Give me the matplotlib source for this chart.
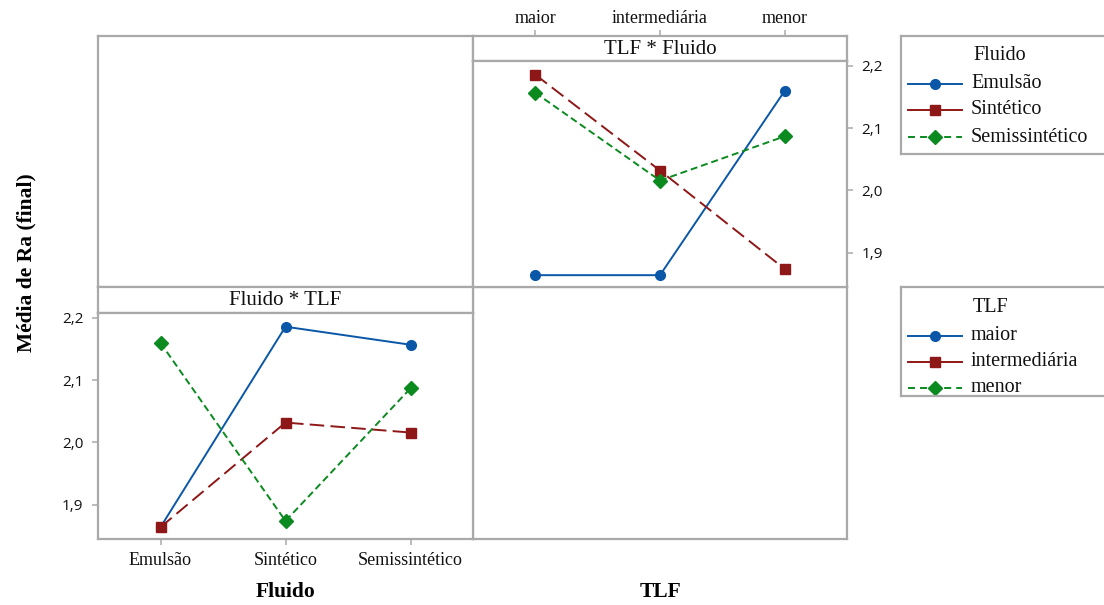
import matplotlib
matplotlib.use("Agg")
import matplotlib.pyplot as plt

# Levels of the two factors
fluidos = ["Emulsão", "Sintético", "Semissintético"]
tlf_niveis = ["maior", "intermediária", "menor"]

# Mean Ra (final) for each TLF level, ordered as in `fluidos`
ra_maior = [1.864, 2.186, 2.157]
ra_intermediaria = [1.864, 2.032, 2.016]
ra_menor = [2.160, 1.874, 2.087]

yticks = [1.9, 2.0, 2.1, 2.2]
ytick_labels = [f"{v:.1f}".replace(".", ",") for v in yticks]

SERIF = "Liberation Serif"
SANS = "Open Sans"
FRAME = "#a9a9a9"
COLORS = ["#0a57a8", "#8e1717", "#0b8a1f"]
STYLES = [
    dict(color=COLORS[0], linestyle="-", marker="o", markersize=7.0, lw=1.4),
    dict(color=COLORS[1], linestyle=(0, (7.5, 3.2)), marker="s", markersize=7.4, lw=1.4),
    dict(color=COLORS[2], linestyle=(0, (3.6, 2.0)), marker="D", markersize=7.6, lw=1.4),
]
# legend keys are short, so only the finest dash remains visible there
KEY_LINESTYLES = ["-", "-", (0, (3.6, 2.6))]

W, H = 1104, 605
fig = plt.figure(figsize=(W / 100, H / 100), dpi=100)


def px_axes(left, top, right, bottom):
    ax = fig.add_axes([left / W, 1 - bottom / H, (right - left) / W, (bottom - top) / H])
    for sp in ax.spines.values():
        sp.set_color(FRAME)
        sp.set_linewidth(1.6)
    ax.tick_params(color=FRAME, length=4.5, width=1.1, labelcolor="#111111")
    ax.set_xticks([])
    ax.set_yticks([])
    ax.set_facecolor("white")
    return ax


def strip(ax, title):
    ax.set_xlim(-0.5, 2.5)
    ax.set_ylim(0, 1)
    ax.text(0.5, 0.47, title, transform=ax.transAxes, ha="center", va="center",
            family=SERIF, fontsize=15, color="#111111")


def style_yticks(ax, side):
    ax.set_ylim(1.845, 2.208)
    ax.set_yticks(yticks)
    ax.set_yticklabels(ytick_labels, family=SANS, fontsize=11)
    if side == "right":
        ax.yaxis.tick_right()
    ax.tick_params(axis="y", pad=6)


ra_por_tlf = [ra_maior, ra_intermediaria, ra_menor]

# Empty corner panels
px_axes(98, 36, 473, 287)
px_axes(473, 287, 847, 539)

# Top right: Fluido lines across TLF levels
s_tr = px_axes(473, 36, 847, 61)
strip(s_tr, "TLF * Fluido")
s_tr.xaxis.tick_top()
s_tr.set_xticks(range(len(tlf_niveis)))
s_tr.set_xticklabels(tlf_niveis, family=SERIF, fontsize=13)
s_tr.tick_params(axis="x", pad=2)

ax_tr = px_axes(473, 61, 847, 287)
ax_tr.set_xlim(-0.5, 2.5)
style_yticks(ax_tr, "right")
for j, fl in enumerate(fluidos):
    vals = [ra_por_tlf[i][j] for i in range(len(tlf_niveis))]
    ax_tr.plot(range(len(tlf_niveis)), vals, label=fl, **STYLES[j])

# Bottom left: TLF lines across Fluido levels
s_bl = px_axes(98, 287, 473, 313)
strip(s_bl, "Fluido * TLF")

ax_bl = px_axes(98, 313, 473, 539)
ax_bl.set_xlim(-0.5, 2.5)
style_yticks(ax_bl, "left")
ax_bl.set_xticks(range(len(fluidos)))
ax_bl.set_xticklabels(fluidos, family=SERIF, fontsize=13)
ax_bl.tick_params(axis="x", pad=5)
for i, nivel in enumerate(tlf_niveis):
    ax_bl.plot(range(len(fluidos)), ra_por_tlf[i], label=nivel, **STYLES[i])


def legend_box(top, bottom, title, labels, title_y, rows_y):
    lg = fig.add_axes([901 / W, 1 - bottom / H, (1110 - 901) / W, (bottom - top) / H])
    lg.set_xlim(901, 1110)
    lg.set_ylim(bottom, top)
    lg.set_xticks([])
    lg.set_yticks([])
    for sp in lg.spines.values():
        sp.set_color(FRAME)
        sp.set_linewidth(1.6)
    lg.text(973, title_y, title, ha="left", va="center", family=SERIF,
            fontsize=14.5, color="#111111")
    for k, (lab, y) in enumerate(zip(labels, rows_y)):
        key = dict(STYLES[k], linestyle=KEY_LINESTYLES[k])
        lg.plot([908, 935, 962], [y, y, y], markevery=[1], **key)
        lg.text(971, y, lab, ha="left", va="center", family=SERIF,
                fontsize=14.5, color="#111111")


legend_box(36, 154, "Fluido", fluidos, 56, [84, 110, 137])
legend_box(287, 396, "TLF", tlf_niveis, 307, [336, 362, 388])

# Axis titles
fig.text(26 / W, 1 - 263 / H, "Média de Ra (final)", rotation=90, ha="center",
         va="center", family=SERIF, fontsize=15.5, fontweight="bold")
fig.text(286 / W, 1 - 592 / H, "Fluido", ha="center", va="center",
         family=SERIF, fontsize=15.5, fontweight="bold")
fig.text(660 / W, 1 - 592 / H, "TLF", ha="center", va="center",
         family=SERIF, fontsize=15.5, fontweight="bold")

fig.savefig("out.png", dpi=100, facecolor="white")
